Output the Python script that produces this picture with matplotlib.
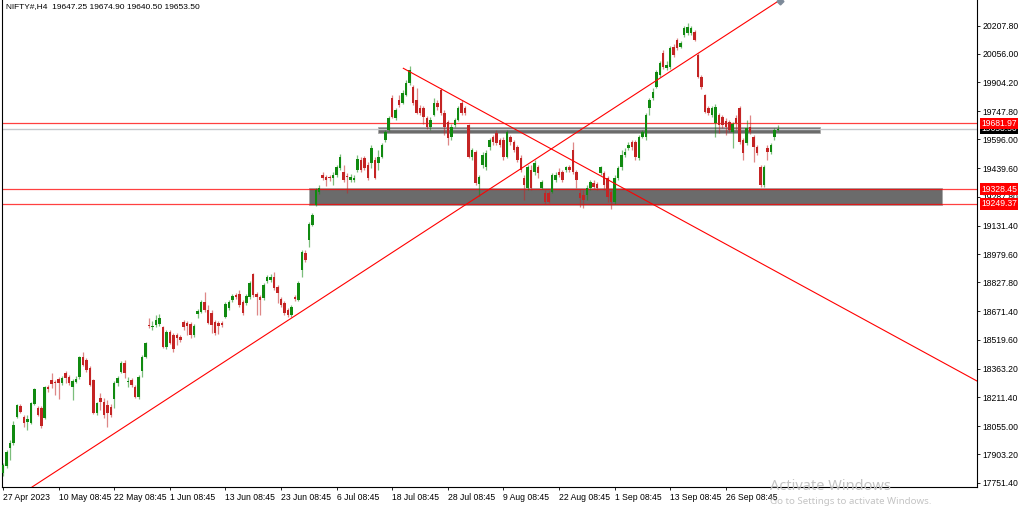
import matplotlib.pyplot as plt
from matplotlib.patches import Rectangle
import numpy as np

title = "NIFTY#,H4  19647.25 19674.90 19640.50 19653.50"

# H4 bars, one row = 16 bars (8 sessions)
opens = [
    17803, 17841, 17937, 17964, 18104, 18163, 18104, 18077, 18072, 18174, 18152, 18152, 18099, 18265, 18303, 18292,
    18308, 18287, 18341, 18319, 18265, 18292, 18319, 18427, 18410, 18367, 18303, 18126, 18206, 18185, 18169, 18158,
    18201, 18287, 18346, 18394, 18292, 18303, 18265, 18212, 18351, 18427, 18598, 18588, 18598, 18604, 18588, 18480,
    18561, 18545, 18545, 18534, 18615, 18609, 18604, 18545, 18658, 18668, 18722, 18679, 18663, 18615, 18609, 18609,
    18642, 18690, 18733, 18760, 18765, 18722, 18717, 18749, 18873, 18765, 18749, 18743, 18835, 18840, 18856, 18803,
    18738, 18717, 18679, 18652, 18749, 18733, 18894, 18985, 19055, 19136, 19243, 19313, 19405, 19394, 19394, 19389,
    19405, 19442, 19421, 19399, 19378, 19378, 19431, 19485, 19496, 19458, 19469, 19485, 19469, 19501, 19593, 19646,
    19818, 19711, 19808, 19792, 19835, 19899, 19878, 19808, 19765, 19765, 19711, 19663, 19727, 19792, 19861, 19738,
    19689, 19609, 19673, 19700, 19792, 19765, 19673, 19501, 19528, 19356, 19458, 19448, 19555, 19609, 19630, 19593,
    19593, 19501, 19609, 19582, 19555, 19496, 19389, 19335, 19431, 19421, 19448, 19335, 19308, 19308, 19313, 19378,
    19421, 19421, 19431, 19448, 19539, 19421, 19308, 19297, 19297, 19335, 19362, 19356, 19415, 19415, 19389, 19313,
    19259, 19389, 19448, 19512, 19550, 19582, 19582, 19496, 19609, 19609, 19765, 19818, 19878, 19942, 20060, 19980,
    19985, 20092, 20130, 20092, 20157, 20168, 20168, 20173, 20049, 19931, 19835, 19765, 19727, 19684, 19727, 19716,
    19695, 19689, 19636, 19711, 19765, 19593, 19577, 19663, 19609, 19555, 19448, 19351, 19550, 19528, 19609, 19647.25,
]
highs = [
    17857, 17927, 17980, 18083, 18174, 18174, 18115, 18115, 18185, 18260, 18163, 18163, 18271, 18276, 18341, 18303,
    18319, 18324, 18351, 18330, 18308, 18324, 18432, 18453, 18421, 18378, 18308, 18185, 18233, 18206, 18195, 18174,
    18298, 18324, 18405, 18410, 18319, 18314, 18276, 18330, 18437, 18507, 18636, 18620, 18652, 18657, 18593, 18572,
    18572, 18555, 18555, 18545, 18625, 18620, 18615, 18604, 18685, 18733, 18776, 18706, 18679, 18625, 18620, 18620,
    18722, 18733, 18765, 18770, 18787, 18733, 18765, 18835, 18878, 18776, 18760, 18824, 18867, 18873, 18883, 18814,
    18749, 18727, 18690, 18706, 18760, 18835, 19002, 19002, 19152, 19200, 19335, 19351, 19421, 19405, 19405, 19421,
    19458, 19517, 19458, 19415, 19410, 19405, 19512, 19501, 19507, 19474, 19566, 19501, 19539, 19577, 19646, 19722,
    19835, 19765, 19835, 19861, 19915, 19990, 19888, 19872, 19781, 19775, 19722, 19716, 19818, 19808, 19872, 19754,
    19700, 19679, 19711, 19775, 19808, 19775, 19679, 19550, 19539, 19405, 19528, 19539, 19603, 19620, 19646, 19603,
    19609, 19646, 19620, 19593, 19566, 19512, 19405, 19458, 19458, 19485, 19458, 19378, 19324, 19319, 19415, 19421,
    19442, 19431, 19453, 19458, 19582, 19431, 19329, 19324, 19351, 19378, 19378, 19367, 19453, 19426, 19399, 19324,
    19405, 19453, 19539, 19550, 19582, 19593, 19593, 19620, 19646, 19738, 19818, 19872, 19969, 20017, 20076, 20017,
    20098, 20109, 20141, 20125, 20205, 20221, 20205, 20184, 20060, 19942, 19840, 19775, 19775, 19786, 19738, 19727,
    19711, 19700, 19689, 19727, 19775, 19603, 19700, 19727, 19620, 19566, 19458, 19458, 19566, 19577, 19657, 19674.90,
]
lows = [
    17787, 17830, 17873, 17954, 18099, 18126, 18050, 18034, 18066, 18169, 18110, 18045, 18093, 18238, 18260, 18222,
    18201, 18276, 18287, 18276, 18195, 18287, 18308, 18378, 18346, 18271, 18120, 18115, 18142, 18099, 18050, 18104,
    18152, 18271, 18341, 18314, 18265, 18265, 18206, 18201, 18319, 18421, 18582, 18572, 18588, 18593, 18475, 18469,
    18496, 18453, 18491, 18507, 18572, 18545, 18529, 18534, 18636, 18663, 18668, 18604, 18555, 18545, 18550, 18588,
    18636, 18679, 18722, 18738, 18695, 18652, 18706, 18738, 18749, 18652, 18652, 18733, 18824, 18830, 18787, 18717,
    18695, 18652, 18642, 18642, 18727, 18727, 18856, 18937, 19018, 19131, 19238, 19303, 19378, 19345, 19372, 19351,
    19394, 19431, 19367, 19308, 19367, 19367, 19421, 19421, 19431, 19378, 19442, 19383, 19431, 19496, 19582, 19641,
    19711, 19700, 19770, 19786, 19829, 19888, 19781, 19732, 19727, 19679, 19652, 19646, 19722, 19754, 19727, 19620,
    19566, 19593, 19663, 19695, 19727, 19727, 19496, 19485, 19351, 19291, 19442, 19431, 19539, 19566, 19566, 19555,
    19485, 19496, 19566, 19528, 19474, 19421, 19270, 19324, 19324, 19405, 19389, 19329, 19249, 19254, 19308, 19367,
    19394, 19367, 19421, 19421, 19410, 19335, 19233, 19227, 19270, 19324, 19329, 19324, 19405, 19324, 19259, 19222,
    19249, 19378, 19431, 19501, 19539, 19539, 19485, 19485, 19603, 19593, 19727, 19808, 19872, 19931, 19974, 19969,
    19974, 20039, 20076, 20087, 20146, 20157, 20157, 20125, 19926, 19867, 19738, 19727, 19716, 19609, 19630, 19657,
    19620, 19636, 19550, 19646, 19571, 19485, 19566, 19625, 19474, 19512, 19340, 19340, 19485, 19517, 19593, 19640.50,
]
closes = [
    17846, 17916, 17964, 18061, 18169, 18131, 18072, 18093, 18179, 18255, 18115, 18056, 18265, 18255, 18281, 18287,
    18287, 18314, 18314, 18287, 18298, 18308, 18427, 18384, 18357, 18276, 18126, 18179, 18185, 18115, 18126, 18115,
    18287, 18314, 18394, 18341, 18298, 18276, 18212, 18319, 18427, 18502, 18593, 18593, 18625, 18636, 18480, 18561,
    18502, 18469, 18529, 18518, 18588, 18593, 18545, 18593, 18674, 18722, 18679, 18609, 18598, 18555, 18593, 18598,
    18711, 18722, 18754, 18749, 18706, 18663, 18754, 18824, 18760, 18749, 18733, 18814, 18856, 18856, 18797, 18770,
    18706, 18663, 18652, 18695, 18738, 18824, 18991, 18948, 19141, 19190, 19324, 19335, 19389, 19378, 19389, 19405,
    19448, 19501, 19378, 19394, 19394, 19389, 19491, 19431, 19442, 19389, 19550, 19389, 19501, 19566, 19636, 19711,
    19716, 19754, 19781, 19845, 19899, 19969, 19792, 19738, 19738, 19716, 19663, 19700, 19792, 19770, 19738, 19663,
    19603, 19663, 19700, 19765, 19738, 19738, 19501, 19539, 19362, 19394, 19512, 19523, 19593, 19582, 19577, 19566,
    19501, 19636, 19582, 19539, 19485, 19431, 19351, 19448, 19335, 19469, 19415, 19367, 19259, 19259, 19405, 19405,
    19405, 19378, 19448, 19431, 19421, 19378, 19281, 19270, 19335, 19367, 19340, 19335, 19448, 19351, 19286, 19259,
    19389, 19442, 19512, 19528, 19566, 19555, 19501, 19609, 19636, 19727, 19808, 19851, 19958, 20006, 19985, 19996,
    20087, 20049, 20087, 20114, 20195, 20200, 20195, 20130, 19931, 19878, 19743, 19738, 19765, 19770, 19673, 19673,
    19663, 19646, 19679, 19684, 19582, 19523, 19657, 19636, 19555, 19523, 19351, 19448, 19528, 19566, 19646, 19653.50,
]

date_labels = ["27 Apr 2023", "10 May 08:45", "22 May 08:45", "1 Jun 08:45", "13 Jun 08:45",
               "23 Jun 08:45", "6 Jul 08:45", "18 Jul 08:45", "28 Jul 08:45", "9 Aug 08:45",
               "22 Aug 08:45", "1 Sep 08:45", "13 Sep 08:45", "26 Sep 08:45"]
price_ticks = [20207.80, 20056.00, 19904.20, 19747.80, 19596.00, 19439.60, 19287.80, 19131.40,
               18979.60, 18827.80, 18671.40, 18519.60, 18363.20, 18211.40, 18055.00, 17903.20, 17751.40]

levels = [19681.97, 19328.45, 19249.37]
bid = 19653.50

# trend lines as (bar, price) pairs
rising_line = [(8.35, 17728.0), (223.6, 20345.0)]
falling_line = [(115.2, 19978.0), (280.3, 18297.5)]

# grey zones: start bar, end bar, low, high
zones = [(88.0, 270.2, 19243.0, 19334.0), (107.9, 235.1, 19628.0, 19662.0)]

green = '#108a10'
red = '#c42424'

plt.rcParams['font.family'] = ['Liberation Sans', 'DejaVu Sans']
fig = plt.figure(figsize=(10.24, 5.08), dpi=100)
ax = fig.add_axes([2/1024, 21/508, 975/1024, 487/508])

for z in zones:
    ax.add_patch(Rectangle((z[0], z[2]), z[1]-z[0], z[3]-z[2], facecolor='#6b6b6b',
                           edgecolor='#a8a8a8', linewidth=0.6, zorder=1))

ax.axhline(bid, color='#c4c8cc', linewidth=1.0, zorder=1.5)
for lv in levels:
    ax.axhline(lv, color='#ff0000', linewidth=0.9, alpha=0.75, zorder=2)

o = np.array(opens)
h = np.array(highs)
l = np.array(lows)
c = np.array(closes)
x = np.arange(len(c))
cols = np.where(c >= o, green, red)
ax.vlines(x, l, h, colors=cols, linewidth=0.9, alpha=0.55, zorder=3)
ax.bar(x, np.maximum(np.abs(c - o), 4), 0.72, bottom=np.minimum(o, c), color=cols, linewidth=0, zorder=4)

for ln in [rising_line, falling_line]:
    ax.plot([ln[0][0], ln[1][0]], [ln[0][1], ln[1][1]], color='#ff0000', linewidth=0.8, zorder=5)
ax.plot(rising_line[1][0], rising_line[1][1] - 8, marker='D', markersize=3.5, color='#7d8a99',
        clip_on=False, zorder=6)

ax.set_xlim(-0.3, 280.3)
ax.set_ylim(17728, 20345)

ax.spines['top'].set_visible(False)
for s in ['left', 'right', 'bottom']:
    ax.spines[s].set_linewidth(0.8)

ax.yaxis.tick_right()
ax.set_yticks(price_ticks)
ax.set_yticklabels(['%.2f' % p for p in price_ticks])
ax.set_xticks(range(0, 16 * len(date_labels), 16))
ax.set_xticklabels(date_labels)
for lbl in ax.get_xticklabels():
    lbl.set_ha('left')
ax.tick_params(axis='both', labelsize=6.2, length=2.5, width=0.6, pad=1.5)

tr = ax.get_yaxis_transform()
ax.text(1.004, bid, '%.2f' % bid, transform=tr, color='white', fontsize=6.2, va='center', ha='left',
        bbox=dict(boxstyle='square,pad=0.15', fc='black', ec='none'), clip_on=False, zorder=7)
for lv in levels:
    ax.text(1.004, lv, '%.2f' % lv, transform=tr, color='white', fontsize=6.2, va='center', ha='left',
            bbox=dict(boxstyle='square,pad=0.15', fc='#ff0000', ec='none'), clip_on=False, zorder=8)

fig.text(6/1024, 1 - 7/508, title, fontsize=6.0, va='center')

fig.text(770/1024, 1 - 487/508, 'Activate Windows', fontsize=10.5, color='#c4c4c4', va='center',
         family=['Noto Sans', 'DejaVu Sans'])
fig.text(770/1024, 1 - 502/508, 'Go to Settings to activate Windows.', fontsize=7.0, color='#c4c4c4',
         va='center', family=['Noto Sans', 'DejaVu Sans'])

fig.savefig('out.png', dpi=100)
